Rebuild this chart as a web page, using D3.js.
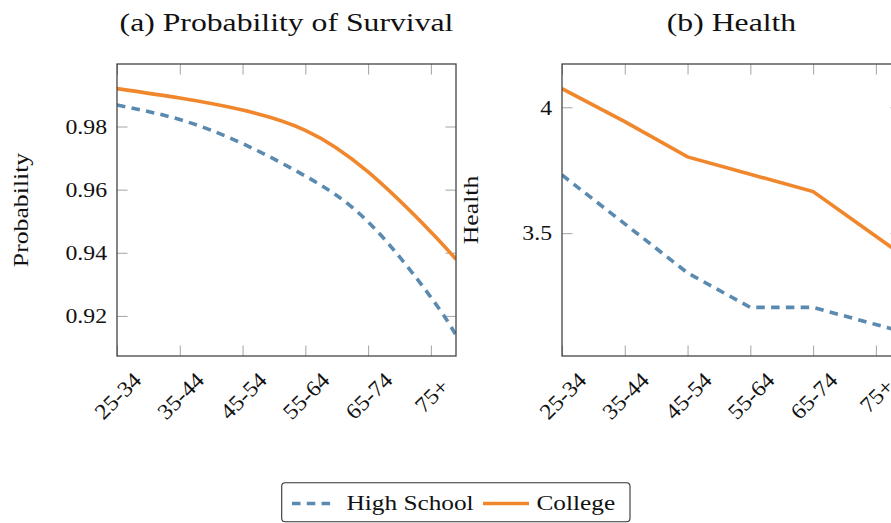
<!DOCTYPE html>
<html>
<head>
<meta charset="utf-8">
<script src="https://cdn.jsdelivr.net/npm/d3@7"></script>
<style>
  body { margin: 0; background: #fff; }
  text { font-family: "Liberation Serif", "Times New Roman", serif; fill: #111; }
</style>
</head>
<body>
<svg id="chart" width="891" height="523"></svg>
<script>
// Age groups shown on the x axis, and the ages at which the series are evaluated
const ageGroups = ["25-34", "35-44", "45-54", "55-64", "65-74", "75+"];
const tickAges = [25, 35, 45, 55, 65, 75];
const ages = [25, 35, 45, 55, 65, 75, 79];

// (a) probability of survival
const survivalHighSchool = [0.9868, 0.9822, 0.9746, 0.9643, 0.9498, 0.9259, 0.9139];
const survivalCollege    = [0.9920, 0.9890, 0.9852, 0.9788, 0.9656, 0.9466, 0.9379];
const survivalTicks = [0.92, 0.94, 0.96, 0.98];

// (b) health
const healthHighSchool = [3.731, 3.537, 3.342, 3.205, 3.205, 3.137, 3.110];
const healthCollege    = [4.074, 3.943, 3.803, 3.734, 3.665, 3.488, 3.417];
const healthTicks = [3.5, 4];

const seriesNames = ["High School", "College"];
const seriesColors = ["#5a8ab0", "#f0872d"];

const svg = d3.select("#chart");

const TICK_LEN = 10.5;
const STRETCH = 1.17;       // widen the serif face along its baseline

function label(g, x, y, str, opts) {
  const o = Object.assign({ size: 22, rotate: 0, anchor: "middle", baseline: "auto", sx: STRETCH }, opts || {});
  return g.append("text")
    .attr("transform", `translate(${x},${y}) rotate(${o.rotate}) scale(${o.sx},1)`)
    .attr("text-anchor", o.anchor)
    .attr("dominant-baseline", o.baseline)
    .style("font-size", o.size + "px")
    .text(str);
}

function panel(cfg) {
  const g = svg.append("g");
  const x = d3.scaleLinear().domain([25, 79]).range([cfg.left, cfg.left + 339]);
  const y = d3.scaleLinear().domain(cfg.yDomain).range([356, 64]);
  const [x0, x1] = x.range();
  const [y0, y1] = y.range();

  // tick marks on all four sides, pointing inward
  const tickStroke = "#a3a3a3";
  const bottomAxis = d3.axisBottom(x).tickValues(tickAges).tickSize(-TICK_LEN).tickFormat("");
  const topAxis = d3.axisTop(x).tickValues(tickAges).tickSize(-TICK_LEN).tickFormat("");
  const leftAxis = d3.axisLeft(y).tickValues(cfg.yTicks).tickSize(-TICK_LEN).tickFormat("");
  const rightAxis = d3.axisRight(y).tickValues(cfg.yTicks).tickSize(-TICK_LEN).tickFormat("");
  [[bottomAxis, `translate(0,${y0})`], [topAxis, `translate(0,${y1})`],
   [leftAxis, `translate(${x0},0)`], [rightAxis, `translate(${x1},0)`]].forEach(([ax, tr]) => {
    const a = g.append("g").attr("transform", tr).call(ax);
    a.select(".domain").remove();
    a.selectAll(".tick line").attr("stroke", tickStroke).attr("stroke-width", 1);
  });

  // series lines
  const line = d3.line().x((d, i) => x(ages[i])).y(d => y(d)).curve(cfg.curve);
  const clipId = "clip-" + cfg.id;
  svg.append("clipPath").attr("id", clipId).append("rect")
    .attr("x", x0).attr("y", y1).attr("width", x1 - x0).attr("height", y0 - y1);
  const lines = g.append("g").attr("clip-path", `url(#${clipId})`);
  lines.append("path").datum(cfg.highSchool)
    .attr("d", line).attr("fill", "none")
    .attr("stroke", seriesColors[0]).attr("stroke-width", 3.6)
    .attr("stroke-dasharray", "8.5,6.3");
  lines.append("path").datum(cfg.college)
    .attr("d", line).attr("fill", "none")
    .attr("stroke", seriesColors[1]).attr("stroke-width", 3.6);

  // frame
  g.append("rect").attr("x", x0).attr("y", y1).attr("width", x1 - x0).attr("height", y0 - y1)
    .attr("fill", "none").attr("stroke", "#444").attr("stroke-width", 1.3);

  // y tick labels
  cfg.yTicks.forEach(v => label(g, x0 - 10, y(v), cfg.yFormat(v), { anchor: "end", baseline: "central", sx: 1.08 }));

  // rotated x tick labels
  tickAges.forEach((a, i) => label(g, x(a) + 1, 396, ageGroups[i], { rotate: -45, baseline: "central", sx: 1.08 }));

  // axis title
  label(g, cfg.yLabelX, 210, cfg.yLabel, { rotate: -90 });

  // panel title
  label(g, (x0 + x1) / 2, 31, cfg.title, { size: 26, sx: 1.22 });
}

panel({
  id: "a", left: 117, yDomain: [0.9073, 0.9998], yTicks: survivalTicks,
  yFormat: d3.format(".2f"), highSchool: survivalHighSchool, college: survivalCollege,
  curve: d3.curveNatural, yLabel: "Probability", yLabelX: 28,
  title: "(a) Probability of Survival"
});

panel({
  id: "b", left: 562, yDomain: [3.012, 4.172], yTicks: healthTicks,
  yFormat: d => String(d), highSchool: healthHighSchool, college: healthCollege,
  curve: d3.curveLinear, yLabel: "Health", yLabelX: 478,
  title: "(b) Health"
});

// legend
const legend = svg.append("g");
legend.append("rect").attr("x", 281.7).attr("y", 482.7).attr("width", 348.3).attr("height", 39)
  .attr("rx", 3.5).attr("fill", "#fff").attr("stroke", "#333").attr("stroke-width", 1.1);
const legendItems = [
  { x0: 292, x1: 332, tx: 346.5, dash: "8.5,6.3" },
  { x0: 483, x1: 529, tx: 536.5, dash: null }
];
legendItems.forEach((it, i) => {
  legend.append("line").attr("x1", it.x0).attr("x2", it.x1).attr("y1", 503.5).attr("y2", 503.5)
    .attr("stroke", seriesColors[i]).attr("stroke-width", 3.6)
    .attr("stroke-dasharray", it.dash);
  label(legend, it.tx, 510, seriesNames[i], { anchor: "start", sx: 1.15 });
});
</script>
</body>
</html>
